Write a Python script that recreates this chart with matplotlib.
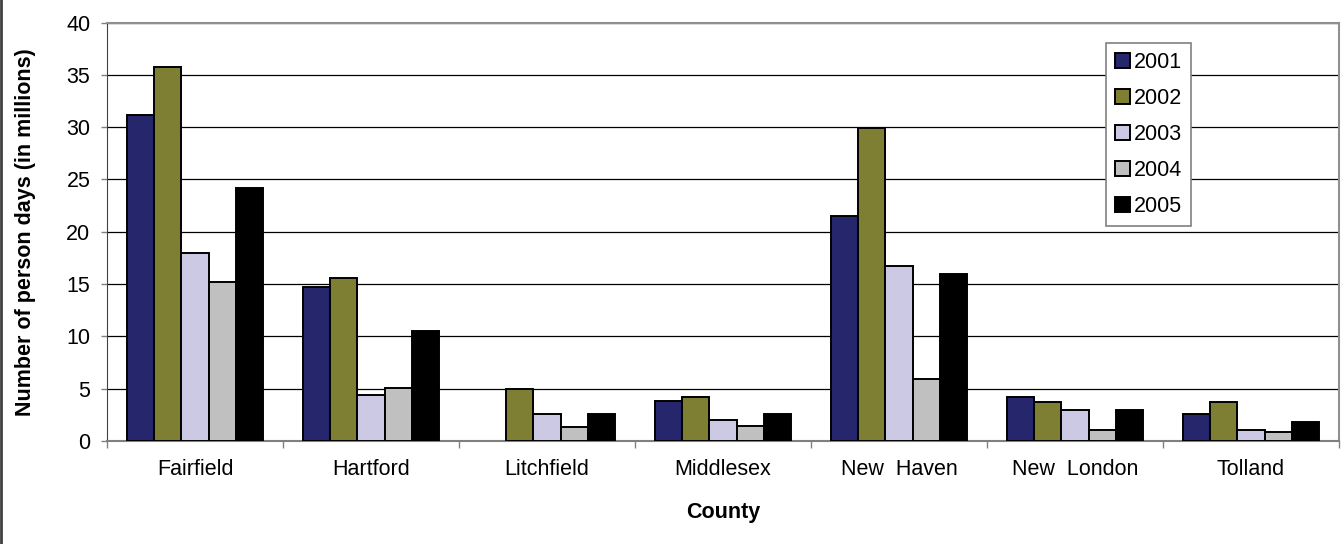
import numpy as np
import matplotlib.pyplot as plt
from matplotlib.lines import Line2D

plt.rcParams['font.family'] = ['Liberation Sans', 'DejaVu Sans']

counties = ["Fairfield", "Hartford", "Litchfield", "Middlesex", "New  Haven", "New  London", "Tolland"]
years = ["2001", "2002", "2003", "2004", "2005"]
colors = ["#25266B", "#7E7F33", "#CBC9E4", "#C0C0C0", "#000000"]

v2001 = [31.2, 14.7, 0.0, 3.85, 21.5, 4.2, 2.6]
v2002 = [35.75, 15.6, 4.97, 4.23, 29.9, 3.7, 3.7]
v2003 = [17.96, 4.4, 2.55, 2.0, 16.7, 2.96, 1.1]
v2004 = [15.2, 5.1, 1.3, 1.46, 5.9, 1.1, 0.9]
v2005 = [24.2, 10.5, 2.6, 2.6, 16.0, 2.96, 1.85]
series = [v2001, v2002, v2003, v2004, v2005]

fs = 15.5

fig = plt.figure(figsize=(13.43, 5.44), dpi=100)
ax = fig.add_axes([0.0797, 0.1893, 0.9173, 0.7693])

x = np.arange(len(counties))
w = 0.155
for i, (vals, c, yr) in enumerate(zip(series, colors, years)):
    h = np.array(vals, dtype=float)
    h[h == 0] = np.nan  # no bar drawn for a zero value
    ax.bar(x + (i - 2) * w, h, width=w, color=c, edgecolor="black",
           linewidth=1.4, label=yr, zorder=3)

ax.set_xlim(-0.5, len(counties) - 0.5)
ax.set_ylim(0, 40)
ax.set_yticks(range(0, 41, 5))
ax.yaxis.grid(True, color="black", linewidth=0.9, zorder=0)
ax.set_axisbelow(True)

ax.set_xticks(x)
ax.set_xticklabels(counties, fontsize=fs)
ax.tick_params(axis="x", length=0, pad=13)
ax.set_xticks(np.arange(-0.5, len(counties)), minor=True)
ax.tick_params(axis="x", which="minor", length=5, color="#808080", width=1)
ax.tick_params(axis="y", labelsize=fs, length=4, color="#808080", width=1, pad=8)

for s in ["top", "right"]:
    ax.spines[s].set_color("#909090")
    ax.spines[s].set_linewidth(1.5)
ax.spines["left"].set_color("#404040")
ax.spines["bottom"].set_color("#808080")
ax.spines["bottom"].set_linewidth(1.5)

ax.set_ylabel("Number of person days (in millions)", fontsize=fs, fontweight="bold", labelpad=22)
ax.set_xlabel("County", fontsize=fs, fontweight="bold", labelpad=16)

leg = ax.legend(loc="upper left", bbox_to_anchor=(0.811, 0.95), fontsize=fs,
                frameon=True, fancybox=False, edgecolor="#808080",
                handlelength=0.7, handleheight=0.7, handletextpad=0.2,
                labelspacing=0.7, borderpad=0.4, borderaxespad=0)
leg.get_frame().set_linewidth(1.2)
leg.get_frame().set_alpha(1)

fig.add_artist(Line2D([0.001, 0.001], [0, 1], color="#404040", linewidth=2,
                      transform=fig.transFigure))

fig.savefig("out.png", dpi=100)
